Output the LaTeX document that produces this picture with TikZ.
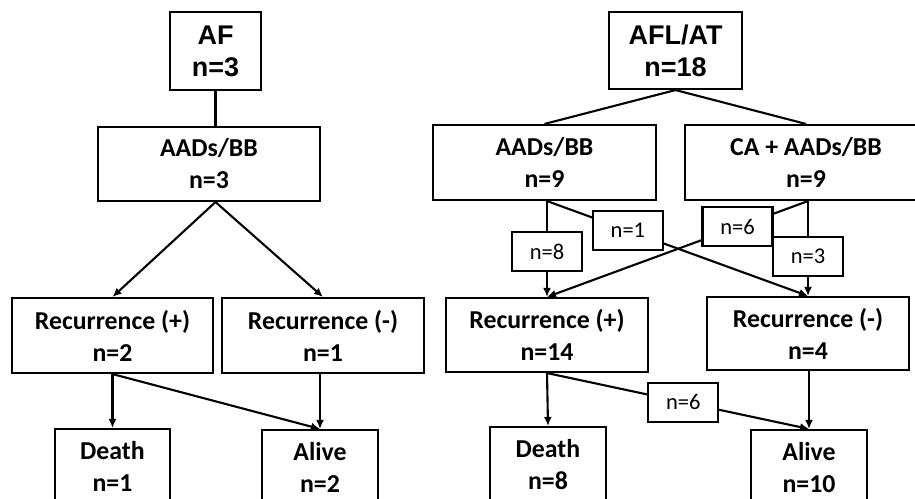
\documentclass[tikz,border=0pt]{standalone}
\usepackage{fontspec}
\setmainfont{Carlito}
\newfontfamily\headfont{Liberation Sans}
\usetikzlibrary{arrows.meta,positioning}

\begin{document}
\begin{tikzpicture}[x=1pt,y=-1pt,line width=2.1pt,
  box/.style={draw,align=center,inner sep=0pt,font=\fontsize{25.8}{32}\selectfont\bfseries},
  head/.style={box,font=\headfont\fontsize{27}{32}\selectfont\bfseries},
  lbl/.style={draw,fill=white,inner sep=0pt,minimum width=70pt,minimum height=39pt,font=\fontsize{22.5}{26}\selectfont},
  arr/.style={-{Latex[length=9pt,width=8pt]}}]
\useasboundingbox (0,0) rectangle (915,498);
% AF branch
\node[head,minimum width=91pt,minimum height=78pt] (af) at (215.5,51) {AF\\n=3};
\node[box,minimum width=222pt,minimum height=74pt] (aadsL) at (209,164) {AADs/BB\\n=3};
\node[box,minimum width=201pt,minimum height=75pt] (recpL) at (112.5,335.5) {Recurrence (+)\\n=2};
\node[box,minimum width=202pt,minimum height=75pt] (recnL) at (323,335.5) {Recurrence (-)\\n=1};
\node[box,minimum width=115pt,minimum height=75pt] (deathL) at (112.5,466.5) {Death\\n=1};
\node[box,minimum width=116pt,minimum height=75pt] (aliveL) at (320,467.5) {Alive\\n=2};
\coordinate (aadsLb) at (af |- aadsL.south);
\draw (af) -- (af |- aadsL.north);
\draw[arr] (aadsLb) -- (recpL.north);
\draw[arr] (aadsLb) -- (recnL.north);
\draw[arr] (recpL.south) -- (deathL.north);
\draw[arr] (recpL.south) -- (aliveL.north);
\draw[arr] (aliveL.north |- recnL.south) -- (aliveL.north);
% AFL/AT branch
\node[head,minimum width=133pt,minimum height=77pt] (aflat) at (675.5,50.5) {AFL/AT\\n=18};
\node[box,minimum width=223pt,minimum height=75pt] (aadsR) at (544.5,162.5) {AADs/BB\\n=9};
\node[box,minimum width=242pt,minimum height=75pt] (caR) at (806,162.5) {CA + AADs/BB\\n=9};
\node[box,minimum width=202pt,minimum height=74pt] (recpR) at (547,335) {Recurrence (+)\\n=14};
\node[box,minimum width=202pt,minimum height=73pt] (recnR) at (808,333.5) {Recurrence (-)\\n=4};
\node[box,minimum width=116pt,minimum height=75pt] (deathR) at (548,464.5) {Death\\n=8};
\node[box,minimum width=116pt,minimum height=75pt] (aliveR) at (809,467.5) {Alive\\n=10};
\coordinate (aadsRb) at (recpR.north |- aadsR.south);
\coordinate (caRb) at (recnR.north |- caR.south);
\draw (aflat.south) -- (aadsR.north);
\draw (aflat.south) -- (caR.north);
\draw[arr] (aadsRb) -- node[lbl,pos=.53] (n8) {n=8} (recpR.north);
\draw[arr] (aadsRb) -- node[lbl,pos=.31] (n1) {n=1} (recnR.north);
\draw[arr] (caRb) -- node[lbl,pos=.27] (n6) {n=6} (recpR.north);
\draw[arr] (caRb) -- node[lbl,pos=.58] (n3) {n=3} (recnR.north);
\draw[arr] (recpR.south) -- (deathR.north);
\draw[arr] (recpR.south) -- node[lbl,pos=.52] (n6b) {n=6} (aliveR.north);
\draw[arr] (aliveR.north |- recnR.south) -- (aliveR.north);
\end{tikzpicture}
\end{document}
